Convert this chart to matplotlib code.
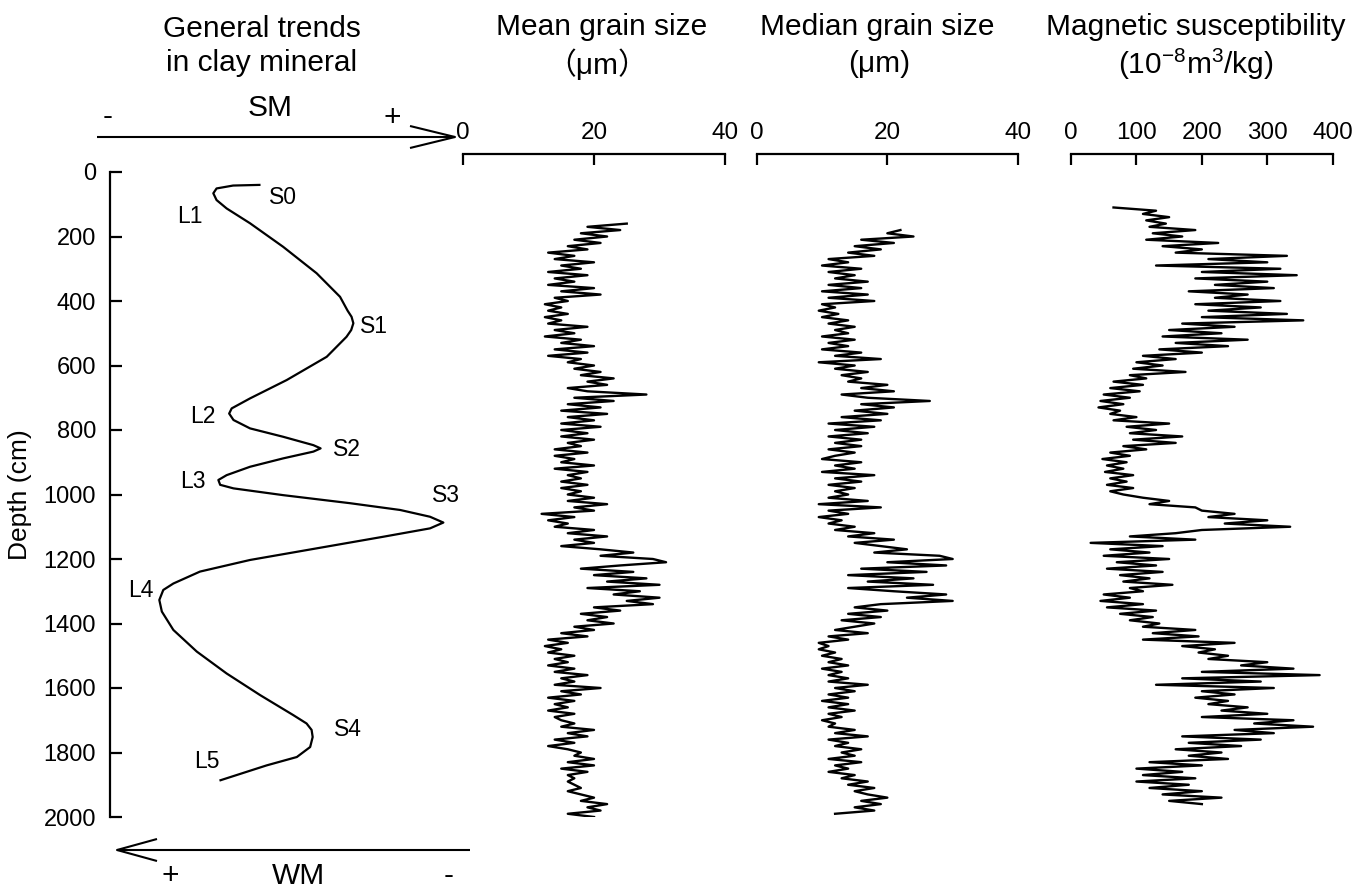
import numpy as np
import matplotlib
matplotlib.use("Agg")
import matplotlib.pyplot as plt
from matplotlib.lines import Line2D

plt.rcParams['font.family'] = ['Liberation Sans', 'Noto Sans CJK SC', 'DejaVu Sans']
plt.rcParams['mathtext.fontset'] = 'custom'
plt.rcParams['mathtext.rm'] = 'Liberation Sans'
plt.rcParams['mathtext.it'] = 'Liberation Sans:italic'

# ---------------- data ----------------
depth_ticks = [0, 200, 400, 600, 800, 1000, 1200, 1400, 1600, 1800, 2000]

# general trend of clay minerals (relative index 0-100, depth in cm)
clay_depth = [40, 42, 51, 66, 87, 113, 159, 232, 314, 387, 430, 449, 469, 490, 511, 573, 645,
              702, 733, 749, 769, 795, 821, 847, 857, 867, 888, 914, 940, 955, 970,
              981, 1002, 1027, 1048, 1069, 1087, 1105, 1131, 1167, 1203, 1239, 1276,
              1296, 1327, 1363, 1420, 1487, 1555, 1622, 1684, 1710, 1730, 1752, 1783, 1814,
              1840, 1886]
clay_index = [41.5, 34.2, 29.6, 28.7, 29.6, 32.4, 38.9, 48.1, 57.4, 63.9, 66.0, 67.1, 67.6,
              67.0, 65.7, 60.2, 49.1, 38.9, 33.8, 33.1, 34.3, 38.9, 48.1, 56.5, 58.5, 56.5,
              48.1, 38.9, 32.4, 30.1, 30.6, 34.3, 48.1, 66.7, 80.6, 88.9, 92.6, 88.9,
              75.9, 57.4, 38.9, 25.0, 17.6, 14.8, 13.7, 14.4, 17.6, 24.1, 32.4, 41.7,
              50.9, 54.6, 56.0, 56.3, 55.6, 51.9, 43.5, 30.7]
clay_labels = ["S0", "L1", "S1", "L2", "S2", "L3", "S3", "L4", "S4", "L5"]

# mean grain size (um), 160-2000 cm every 10 cm
mean_start, mean_step = 160, 10
mean_grain = [25, 19, 24, 18, 22,
              17, 21, 16, 19, 13, 17, 14, 20, 15, 18,
              13, 19, 14, 17, 13, 20, 15, 21, 14, 16,
              12.5, 15, 13, 16, 12.5, 15, 13, 19, 14, 17,
              12.5, 18, 15, 20, 14, 19, 13, 18, 16, 20,
              17, 21, 18, 23, 19, 22, 16, 19, 28, 17,
              23, 16, 21, 15, 22, 16, 20, 15, 21, 15,
              19, 15, 20, 16, 18, 14, 19, 14, 17, 15,
              20, 14, 19, 16, 18, 15, 19, 15, 18, 16,
              20, 16, 22, 17, 20, 12, 17, 13, 16, 14,
              20, 16, 22, 17, 20, 15, 21, 26, 21, 29,
              31, 24, 18, 26, 20, 28, 22, 30, 19, 27,
              23, 30, 25, 29, 20, 24, 18, 22, 19, 23,
              17, 20, 15, 19, 13, 16, 12.5, 15, 13, 17,
              14, 16, 13, 17, 14, 19, 15, 17, 14, 21,
              15, 18, 13, 17, 14, 16, 13, 17, 14, 15,
              17, 15, 20, 16, 19, 14, 17, 13, 16, 18,
              17, 20, 16, 20, 15, 19, 16, 17, 16, 17,
              18, 16, 18, 20, 18, 22, 19, 21, 16, 20]

# median grain size (um), 180-1990 cm every 10 cm
median_start, median_step = 180, 10
median_grain = [22, 20, 24, 16, 21, 15, 19, 14, 18, 11,
                14, 10, 16, 11, 15, 12, 17, 11, 16, 10,
                17, 11, 18, 10, 12, 9.5, 12.5, 10, 14, 11,
                15, 12, 14, 10, 15, 11, 14, 10, 16, 12,
                19, 9.5, 15, 12, 17, 13, 16, 14, 20, 16,
                21, 13, 17, 26.5, 16, 21, 15, 20, 13, 19,
                11, 18, 12, 17, 11, 16, 12, 16, 11, 15,
                12, 10, 16, 12, 15, 10, 18, 12, 16, 11,
                15, 12, 14, 11, 17, 9.5, 19, 11, 14, 9.5,
                13, 11, 15, 12, 18, 14, 21, 15, 19, 23,
                18, 28, 30, 20, 29, 16, 26, 14, 24, 17,
                27, 14, 21, 29, 23, 30, 19, 15, 20, 14,
                19, 13, 18, 15, 12, 17, 11, 14, 9.5, 11,
                9.5, 12, 10, 13, 11, 14, 10, 13, 11, 14,
                11, 17, 12, 15, 11, 14, 10, 14, 11, 15,
                11, 13, 10, 12, 11, 15, 12, 17, 11, 14,
                12, 16, 13, 15, 11, 16, 12, 14, 11, 15,
                13, 17, 14, 18, 15, 17, 20, 16, 19, 15,
                18, 12]

# magnetic susceptibility (10^-8 m3/kg), 110-1960 cm every 10 cm
mag_start, mag_step = 110, 10
mag_sus = [65, 130, 110, 150, 115, 145, 120, 190, 125, 170,
           115, 225, 140, 200, 160, 330, 210, 300, 130, 320,
           200, 345, 190, 300, 220, 310, 180, 270, 220, 320,
           190, 290, 210, 330, 200, 355, 170, 250, 150, 230,
           140, 270, 160, 240, 135, 200, 110, 160, 100, 140,
           95, 175, 90, 115, 65, 110, 60, 105, 50, 90,
           45, 80, 42, 75, 60, 100, 65, 150, 85, 130,
           90, 170, 95, 160, 80, 115, 60, 90, 48, 85,
           55, 80, 52, 95, 60, 85, 55, 95, 60, 80,
           110, 150, 120, 190, 200, 250, 210, 300, 235, 335,
           200, 160, 90, 190, 30, 140, 60, 120, 50, 150,
           70, 130, 55, 140, 75, 120, 80, 155, 90, 110,
           50, 90, 45, 110, 55, 130, 75, 125, 90, 135,
           110, 190, 125, 195, 110, 250, 170, 220, 195, 240,
           210, 300, 260, 340, 200, 380, 170, 290, 130, 310,
           200, 250, 190, 240, 210, 270, 230, 300, 200, 340,
           280, 370, 250, 310, 170, 290, 180, 260, 160, 230,
           180, 240, 120, 200, 100, 170, 110, 190, 100, 180,
           120, 200, 140, 230, 150, 200]

mean_depth = mean_start + mean_step * np.arange(len(mean_grain))
median_depth = median_start + median_step * np.arange(len(median_grain))
mag_depth = mag_start + mag_step * np.arange(len(mag_sus))

# ---------------- layout helpers ----------------
W, H = 1371, 890
fig = plt.figure(figsize=(W / 100, H / 100), dpi=100)


def fx(px):
    return px / W


def fy(py):
    return 1 - py / H


def add_line(xs, ys, lw=1.5):
    fig.add_artist(Line2D([fx(x) for x in xs], [fy(y) for y in ys],
                          transform=fig.transFigure, color='black', lw=lw,
                          solid_capstyle='butt'))


TOP_D = 0 - (172 - 154) / 0.3225  # depth at the top spine of the proxy panels

# ---------------- clay panel ----------------
ax0 = fig.add_axes([fx(110), fy(817), (470 - 110) / W, (817 - 172) / H])
ax0.plot(clay_index, clay_depth, color='black', lw=1.6)
ax0.set_xlim(0, 100)
ax0.set_ylim(2000, 0)
for s in ['top', 'right', 'bottom']:
    ax0.spines[s].set_visible(False)
ax0.spines['left'].set_linewidth(1.6)
ax0.set_xticks([])
ax0.set_yticks(depth_ticks)
ax0.tick_params(axis='y', direction='in', length=8.5, width=1.6, labelsize=17, pad=10)
ax0.patch.set_alpha(0)

label_pos = [(48.0, 78), (22.2, 139), (73.3, 480), (25.7, 759), (65.9, 862),
             (23.0, 960), (93.3, 1002), (8.5, 1298), (66.2, 1728), (27.0, 1829)]
for name, (lx, ly) in zip(clay_labels, label_pos):
    ax0.text(lx, ly, name, fontsize=16.5, ha='center', va='center')

fig.text(fx(20), fy(495), 'Depth (cm)', rotation=90, ha='center', va='center', fontsize=19)

# ---------------- proxy panels ----------------
panels = [
    (463, 725, (0, 40), [0, 20, 40], mean_grain, mean_depth),
    (756.7, 1018, (0, 40), [0, 20, 40], median_grain, median_depth),
    (1071, 1332.7, (0, 400), [0, 100, 200, 300, 400], mag_sus, mag_depth),
]
for x0, x1, xlim, ticks, vals, dep in panels:
    ax = fig.add_axes([fx(x0), fy(817), (x1 - x0) / W, (817 - 154) / H])
    ax.plot(vals, dep, color='black', lw=1.7)
    ax.set_xlim(*xlim)
    ax.set_ylim(2000, TOP_D)
    for s in ['left', 'right', 'bottom']:
        ax.spines[s].set_visible(False)
    ax.spines['top'].set_linewidth(1.6)
    ax.xaxis.tick_top()
    ax.set_xticks(ticks)
    ax.set_yticks([])
    ax.tick_params(axis='x', direction='in', length=8, width=1.6, labelsize=17.5, pad=7)
    ax.patch.set_alpha(0)

# ---------------- titles ----------------
tfs = 21.5
fig.text(fx(262), fy(29), 'General trends', ha='center', va='center', fontsize=tfs)
fig.text(fx(262), fy(63), 'in clay mineral', ha='center', va='center', fontsize=tfs)
fig.text(fx(602), fy(27), 'Mean grain size', ha='center', va='center', fontsize=tfs)
fig.text(fx(597), fy(64), '（μm）', ha='center', va='center', fontsize=tfs)
fig.text(fx(877), fy(27), 'Median grain size', ha='center', va='center', fontsize=tfs)
fig.text(fx(879), fy(64), '(μm)', ha='center', va='center', fontsize=tfs)
fig.text(fx(1196), fy(27), 'Magnetic susceptibility', ha='center', va='center', fontsize=tfs)
fig.text(fx(1196), fy(64), r'(10$^{\mathregular{-8}}$m$^{\mathregular{3}}$/kg)',
         ha='center', va='center', fontsize=tfs)

# ---------------- SM / WM arrows ----------------
add_line([97, 455], [137, 137])
add_line([410, 455, 410], [126, 137, 148])
fig.text(fx(108), fy(117), '-', ha='center', va='center', fontsize=tfs)
fig.text(fx(270), fy(108), 'SM', ha='center', va='center', fontsize=tfs)
fig.text(fx(392), fy(118), '+', ha='center', va='center', fontsize=tfs)

add_line([117, 470], [850, 850])
add_line([157, 117, 157], [839, 850, 861])
fig.text(fx(170), fy(876), '+', ha='center', va='center', fontsize=tfs)
fig.text(fx(298), fy(876), 'WM', ha='center', va='center', fontsize=tfs)
fig.text(fx(449), fy(876), '-', ha='center', va='center', fontsize=tfs)

fig.savefig('out.png', dpi=100)
